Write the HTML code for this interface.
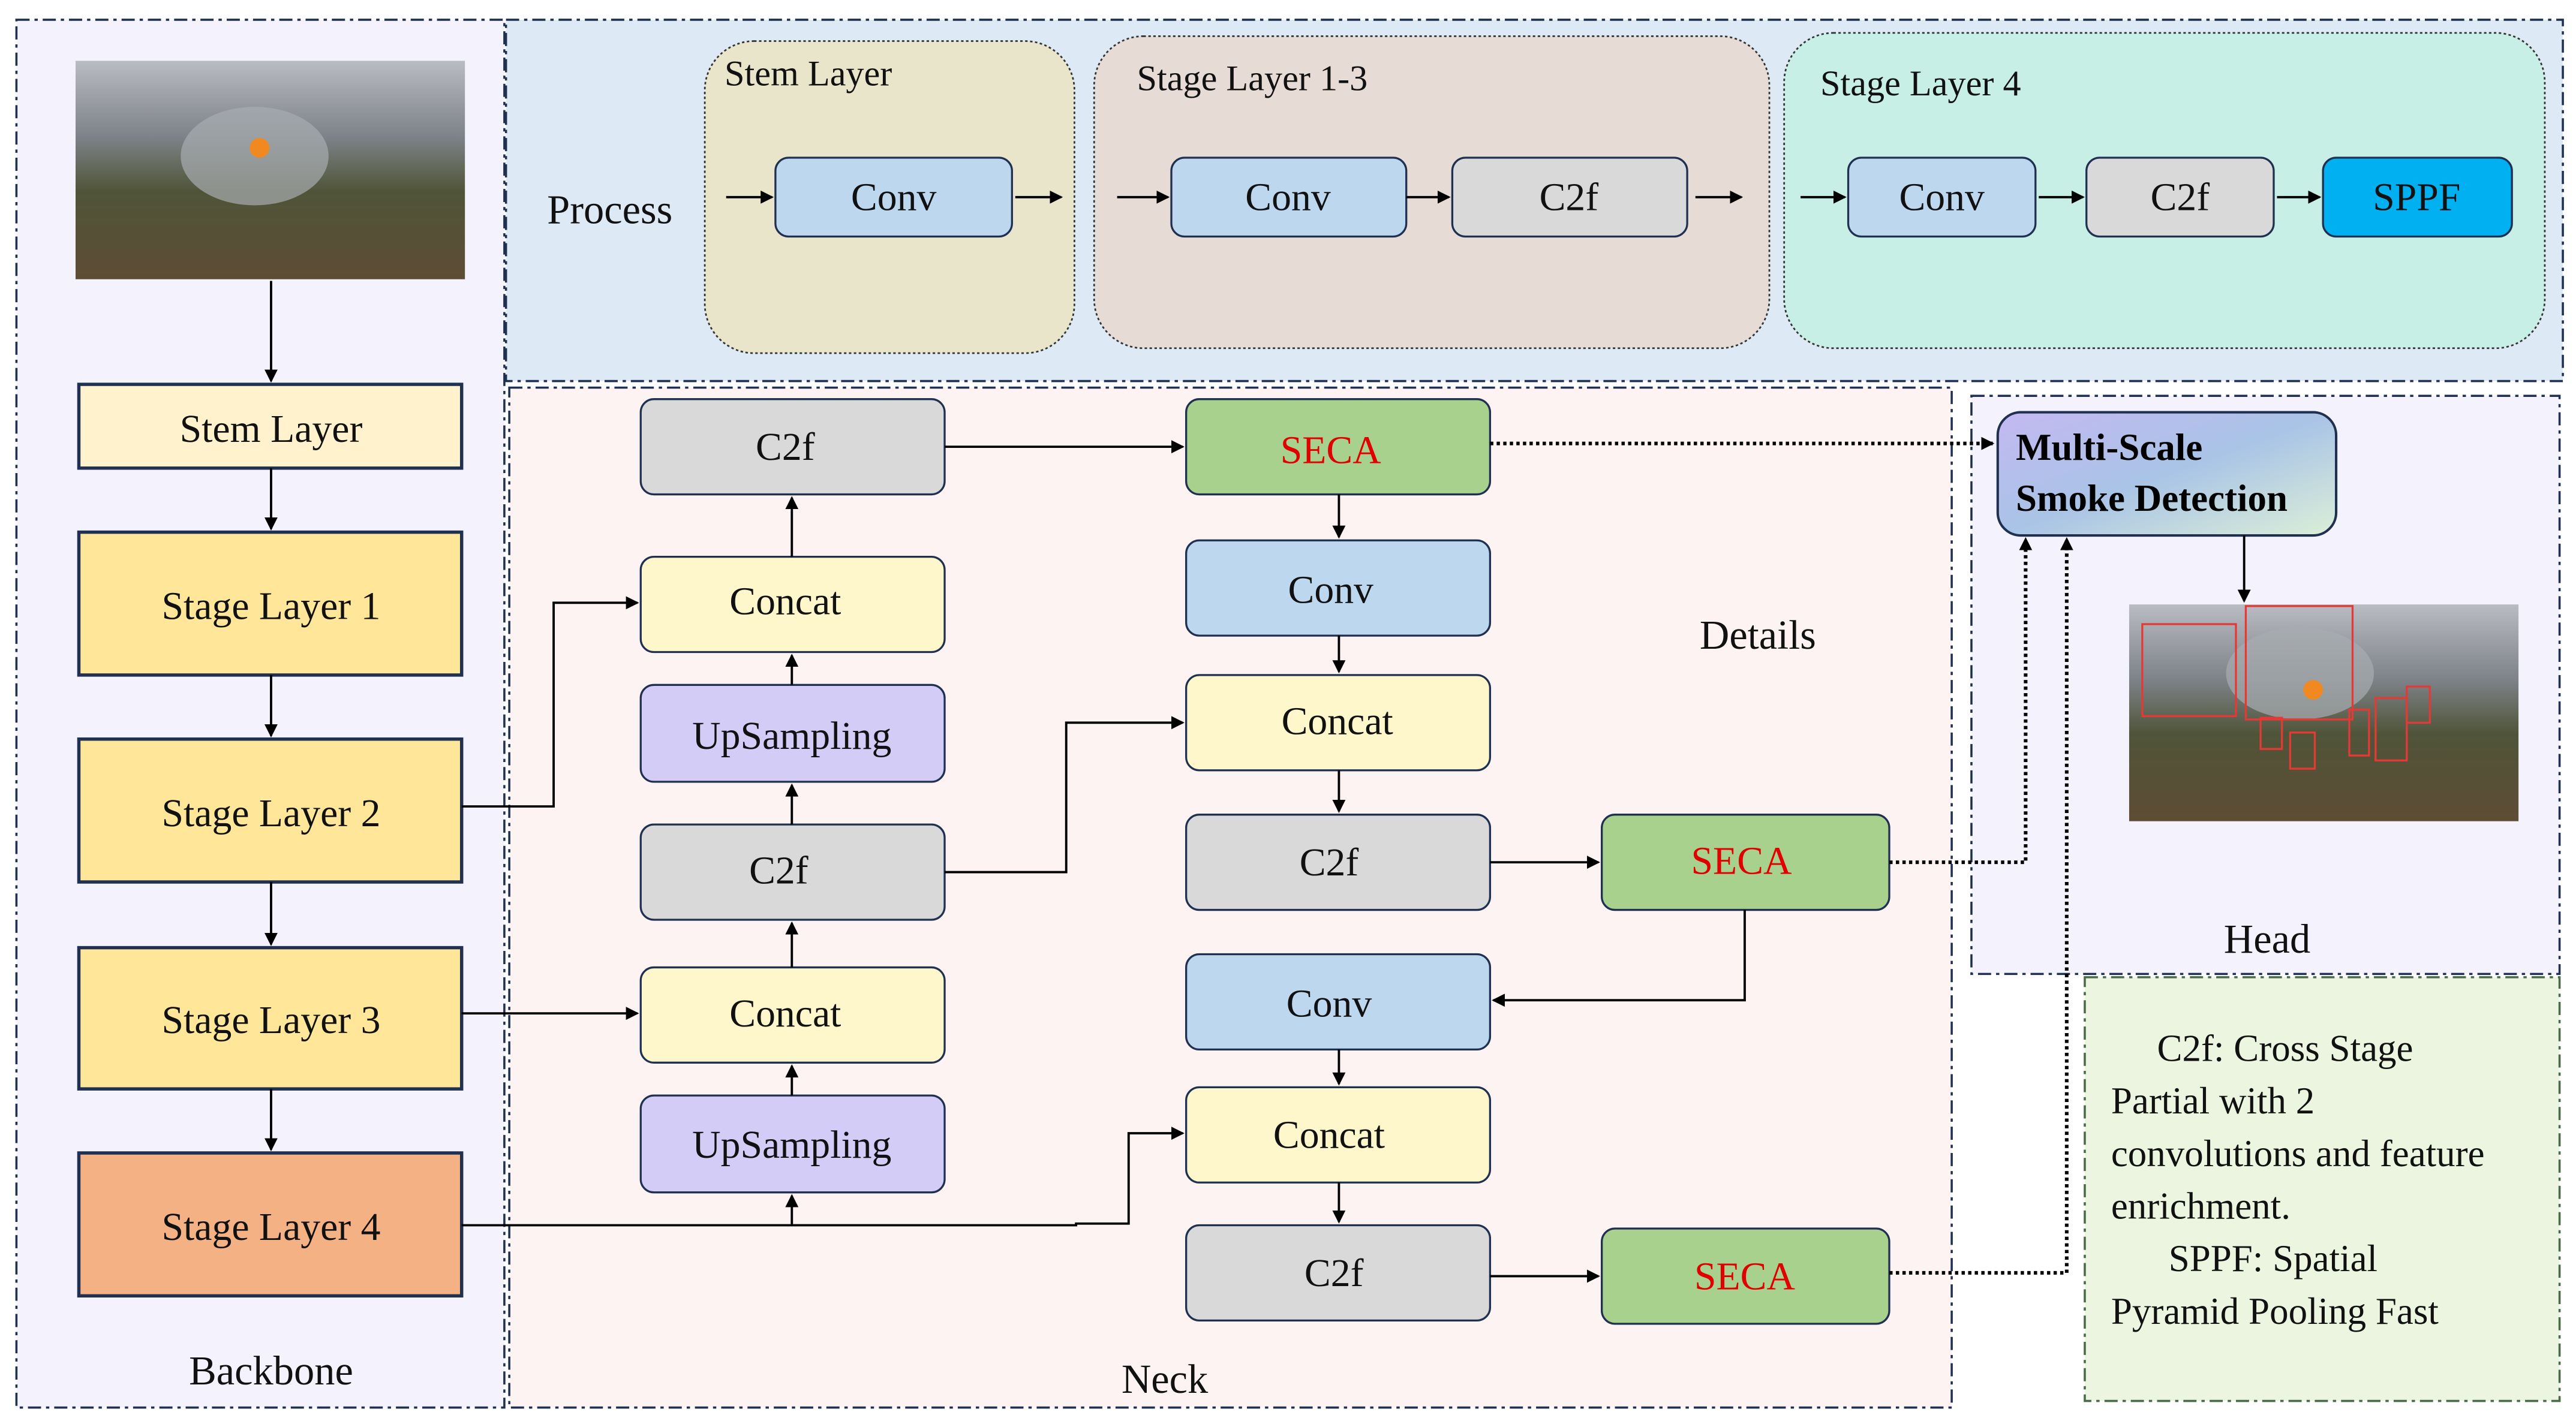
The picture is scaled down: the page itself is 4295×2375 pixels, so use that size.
<!DOCTYPE html>
<html><head><meta charset="utf-8"><style>html,body{margin:0;padding:0;background:#fff}svg{display:block}svg text{font-family:"Liberation Serif","Times New Roman",serif}</style></head><body>
<svg width="4295" height="2375" viewBox="0 0 1568 867" xmlns="http://www.w3.org/2000/svg" font-family="'Liberation Serif', serif">
<defs>
<marker id="a" markerWidth="8" markerHeight="8" refX="7" refY="4" orient="auto" markerUnits="userSpaceOnUse"><path d="M0,0 L8,4 L0,8 Z" fill="#000"/></marker>
<linearGradient id="g" x1="0" y1="0" x2="1" y2="1"><stop offset="0" stop-color="#c4b8f2"/><stop offset="0.5" stop-color="#a9c4e6"/><stop offset="1" stop-color="#dcefd8"/></linearGradient>
<linearGradient id="img" x1="0" y1="0" x2="0" y2="1"><stop offset="0" stop-color="#b9bcc2"/><stop offset="0.35" stop-color="#7d8288"/><stop offset="0.6" stop-color="#4f5438"/><stop offset="1" stop-color="#5e4d35"/></linearGradient>
</defs>
<g stroke="#1f3050" stroke-width="1.3" stroke-dasharray="8,3,2,3">
<rect x="10" y="12" width="297" height="845" fill="#f4f3fd"/>
<rect x="308" y="12" width="1252" height="220" fill="#dde9f5"/>
<rect x="310" y="236" width="878" height="621" fill="#fdf3f2"/>
<rect x="1200" y="241" width="358" height="352" fill="#f4f3fd"/>
<rect x="1269" y="595" width="289" height="258" fill="#ebf5e0" stroke="#4a6a4a"/>
</g>
<rect x="46" y="37" width="237" height="133" fill="url(#img)"/>
<ellipse cx="155" cy="95" rx="45" ry="30" fill="#a8acb0" opacity="0.7"/><circle cx="158" cy="90" r="6" fill="#f08a20"/>
<rect x="1296" y="368" width="237" height="132" fill="url(#img)"/>
<ellipse cx="1400" cy="410" rx="45" ry="28" fill="#a8acb0" opacity="0.7"/><circle cx="1408" cy="420" r="6" fill="#f08a20"/>
<g fill="none" stroke="#e53935" stroke-width="1.2">
<rect x="1304" y="380" width="57" height="56"/><rect x="1367" y="369" width="65" height="69"/><rect x="1376" y="437" width="13" height="19"/><rect x="1394" y="446" width="15" height="22"/><rect x="1430" y="432" width="12" height="28"/><rect x="1446" y="425" width="19" height="38"/><rect x="1465" y="418" width="14" height="22"/>
</g>
<g stroke="#333" stroke-width="1" stroke-dasharray="1.5,1.5">
<rect x="429" y="25" width="225" height="190" rx="30" fill="#e8e5cb"/>
<rect x="666" y="22" width="411" height="190" rx="30" fill="#e6dbd5"/>
<rect x="1086" y="20" width="463" height="192" rx="30" fill="#c7efe5"/>
</g>
<g font-size="22" fill="#111">
<text x="441" y="52">Stem Layer</text><text x="692" y="55">Stage Layer 1-3</text><text x="1108" y="58">Stage Layer 4</text>
<text x="333" y="136" font-size="25">Process</text>
<text x="1070" y="395" font-size="25" text-anchor="middle">Details</text>
<text x="709" y="848" font-size="25" text-anchor="middle">Neck</text>
<text x="165" y="843" font-size="25" text-anchor="middle">Backbone</text>
<text x="1380" y="580" font-size="25" text-anchor="middle">Head</text>
</g>
<g stroke="#1f3050" stroke-width="1.2">
<rect x="472" y="96" width="144" height="48" rx="8" fill="#bdd7ee"/>
<rect x="713" y="96" width="143" height="48" rx="8" fill="#bdd7ee"/>
<rect x="884" y="96" width="143" height="48" rx="8" fill="#d9d9d9"/>
<rect x="1125" y="96" width="114" height="48" rx="8" fill="#bdd7ee"/>
<rect x="1270" y="96" width="114" height="48" rx="8" fill="#d9d9d9"/>
<rect x="1414" y="96" width="115" height="48" rx="8" fill="#00b0f0"/>
<rect x="48" y="234" width="233" height="51" fill="#fff2cc" stroke-width="2"/>
<rect x="48" y="324" width="233" height="87" fill="#ffe699" stroke-width="2"/>
<rect x="48" y="450" width="233" height="87" fill="#ffe699" stroke-width="2"/>
<rect x="48" y="577" width="233" height="86" fill="#ffe699" stroke-width="2"/>
<rect x="48" y="702" width="233" height="87" fill="#f4b183" stroke-width="2"/>
<rect x="390" y="243" width="185" height="58" rx="8" fill="#d9d9d9"/>
<rect x="390" y="339" width="185" height="58" rx="8" fill="#fff7cc"/>
<rect x="390" y="417" width="185" height="59" rx="8" fill="#d2ccf7"/>
<rect x="390" y="502" width="185" height="58" rx="8" fill="#d9d9d9"/>
<rect x="390" y="589" width="185" height="58" rx="8" fill="#fff7cc"/>
<rect x="390" y="667" width="185" height="59" rx="8" fill="#d2ccf7"/>
<rect x="722" y="243" width="185" height="58" rx="8" fill="#a9d18e"/>
<rect x="722" y="329" width="185" height="58" rx="8" fill="#bdd7ee"/>
<rect x="722" y="411" width="185" height="58" rx="8" fill="#fff7cc"/>
<rect x="722" y="496" width="185" height="58" rx="8" fill="#d9d9d9"/>
<rect x="722" y="581" width="185" height="58" rx="8" fill="#bdd7ee"/>
<rect x="722" y="662" width="185" height="58" rx="8" fill="#fff7cc"/>
<rect x="722" y="746" width="185" height="58" rx="8" fill="#d9d9d9"/>
<rect x="975" y="496" width="175" height="58" rx="8" fill="#a9d18e"/>
<rect x="975" y="748" width="175" height="58" rx="8" fill="#a9d18e"/>
<rect x="1216" y="251" width="206" height="75" rx="14" fill="url(#g)" stroke-width="1.5"/>
</g>
<g font-size="24" fill="#111" text-anchor="middle">
<text x="544" y="128">Conv</text><text x="784" y="128">Conv</text><text x="955" y="128">C2f</text>
<text x="1182" y="128">Conv</text><text x="1327" y="128">C2f</text><text x="1471" y="128">SPPF</text>
<text x="165" y="269">Stem Layer</text><text x="165" y="377">Stage Layer 1</text><text x="165" y="503">Stage Layer 2</text><text x="165" y="629">Stage Layer 3</text><text x="165" y="755">Stage Layer 4</text>
<text x="478" y="280">C2f</text><text x="478" y="374">Concat</text><text x="482" y="456">UpSampling</text><text x="474" y="538">C2f</text><text x="478" y="625">Concat</text><text x="482" y="705">UpSampling</text>
<text x="810" y="282" fill="#e00000">SECA</text><text x="810" y="367">Conv</text><text x="814" y="447">Concat</text><text x="809" y="533">C2f</text><text x="809" y="619">Conv</text><text x="809" y="699">Concat</text><text x="812" y="783">C2f</text>
<text x="1060" y="532" fill="#e00000">SECA</text><text x="1062" y="785" fill="#e00000">SECA</text>
</g>
<g font-size="23" font-weight="bold" fill="#000"><text x="1227" y="280">Multi-Scale</text><text x="1227" y="311">Smoke Detection</text></g>
<g font-size="23" fill="#111"><text x="1313" y="646">C2f: Cross Stage</text><text x="1285" y="678">Partial with 2</text><text x="1285" y="710">convolutions and feature</text><text x="1285" y="742">enrichment.</text><text x="1320" y="774">SPPF: Spatial</text><text x="1285" y="806">Pyramid Pooling Fast</text></g>
<g stroke="#000" stroke-width="1.4" fill="none" marker-end="url(#a)">
<path d="M442,120H470"/><path d="M618,120H646"/><path d="M680,120H711"/><path d="M856,120H882"/><path d="M1032,120H1060"/>
<path d="M1096,120H1123"/><path d="M1241,120H1268"/><path d="M1386,120H1412"/>
<path d="M165,171V232"/><path d="M165,285V322"/><path d="M165,411V448"/><path d="M165,537V575"/><path d="M165,663V700"/>
<path d="M281,491H337V367H388"/><path d="M281,617H388"/><path d="M281,746H655V745H687V690H720"/><path d="M482,746V728"/>
<path d="M482,667V649"/><path d="M482,589V562"/><path d="M482,502V478"/><path d="M482,417V399"/><path d="M482,339V303"/>
<path d="M575,272H720"/><path d="M575,531H649V440H720"/>
<path d="M815,301V327"/><path d="M815,387V409"/><path d="M815,469V494"/><path d="M907,525H973"/>
<path d="M1062,554V609H909"/><path d="M815,639V660"/><path d="M815,720V744"/><path d="M907,777H973"/>
<path d="M1366,326V366"/>
</g>
<g stroke="#000" stroke-width="2.2" fill="none" stroke-dasharray="2,2" marker-end="url(#a)">
<path d="M907,270H1213"/><path d="M1150,525H1233V328"/><path d="M1150,775H1258V328"/>
</g>
</svg>
</body></html>
